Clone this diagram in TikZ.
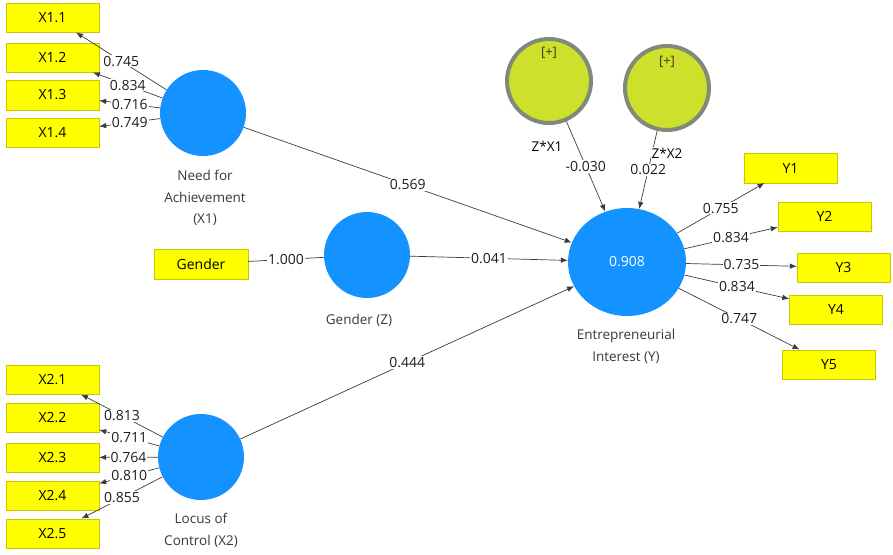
\documentclass[tikz,border=0pt]{standalone}
\usepackage{fontspec}
\setmainfont{Open Sans}
\usetikzlibrary{arrows.meta,shapes.geometric}
\definecolor{lvblue}{RGB}{20,146,255}
\definecolor{boxyellow}{RGB}{255,255,0}
\definecolor{boxedge}{RGB}{200,200,0}
\definecolor{intfill}{RGB}{205,224,43}
\definecolor{intedge}{RGB}{128,138,122}
\definecolor{linegray}{RGB}{60,60,60}
\definecolor{txtgray}{RGB}{30,30,30}
\definecolor{lvtext}{RGB}{60,55,50}
\definecolor{plustext}{RGB}{80,50,20}
\begin{document}
\begin{tikzpicture}[x=1pt,y=-1pt,
  indbox/.style={draw=boxedge, fill=boxyellow, minimum width=93pt, minimum height=29.5pt, inner sep=0pt, font=\fontsize{14}{16}\selectfont, text=black},
  lvcircle/.style={circle, fill=lvblue, minimum size=86pt, inner sep=0pt},
  intlv/.style={circle, fill=intfill, draw=intedge, line width=4pt, minimum size=84pt, inner sep=0pt},
  lvname/.style={align=center, font=\fontsize{13.5}{21.5}\selectfont, text=lvtext},
  coef/.style={fill=white, inner sep=1pt, font=\fontsize{14}{16}\selectfont, text=txtgray},
  ldarrow/.style={draw=linegray, line width=0.7pt, -{Latex[length=7pt,width=5.5pt]}},
  plainline/.style={draw=linegray, line width=0.7pt},
]
\useasboundingbox (0,0) rectangle (893,554);

% indicator boxes
\node[indbox] (X11) at (52.5,17.5) {X1.1};
\node[indbox] (X12) at (52.5,57.5) {X1.2};
\node[indbox] (X13) at (52.5,95) {X1.3};
\node[indbox] (X14) at (52.5,132.5) {X1.4};
\node[indbox] (X21) at (52.5,379.5) {X2.1};
\node[indbox] (X22) at (52.5,417.5) {X2.2};
\node[indbox] (X23) at (52.5,457.5) {X2.3};
\node[indbox] (X24) at (52.5,495.5) {X2.4};
\node[indbox] (X25) at (52.5,533.5) {X2.5};
\node[indbox, minimum width=94pt] (G) at (201,264) {Gender};
\node[indbox] (Y1) at (790.5,168) {Y1};
\node[indbox] (Y2) at (824.5,216.5) {Y2};
\node[indbox] (Y3) at (843.5,267.5) {Y3};
\node[indbox] (Y4) at (836,309.5) {Y4};
\node[indbox] (Y5) at (829,364.5) {Y5};

% latent variables
\node[lvcircle] (NA) at (203,113) {};
\node[lvcircle] (LC) at (201,457) {};
\node[lvcircle] (GZ) at (367,255) {};
\node[ellipse, fill=lvblue, minimum width=118pt, minimum height=108pt, inner sep=0pt,
      text=white, font=\fontsize{14}{16}\selectfont] (EI) at (627,262) {0.908};
\node[intlv] (ZX1) at (549,81) {};
\node[intlv] (ZX2) at (667,88) {};
\node[text=plustext, font=\fontsize{13}{15}\selectfont] (P1) at (549,53) {[+]};
\node[text=plustext, font=\fontsize{13}{15}\selectfont] (P2) at (667,62) {[+]};

% names
\node[lvname] (NAn) at (205,198) {Need for\\Achievement\\(X1)};
\node[lvname] (LCn) at (201,530.5) {Locus of\\Control (X2)};
\node[lvname] (GZn) at (359,320) {Gender (Z)};
\node[lvname] (EIn) at (626,346.5) {Entrepreneurial\\Interest (Y)};

% outer loadings X1
\draw[ldarrow] (NA) -- node[coef, midway] {0.745} (X11);
\draw[ldarrow] (NA) -- node[coef, midway] {0.834} (X12);
\draw[ldarrow] (NA) -- node[coef, midway] {0.716} (X13);
\draw[ldarrow] (NA) -- node[coef, midway] {0.749} (X14);
% outer loadings X2
\draw[ldarrow] (LC) -- node[coef, midway] {0.813} (X21);
\draw[ldarrow] (LC) -- node[coef, midway] {0.711} (X22);
\draw[ldarrow] (LC) -- node[coef, midway] {0.764} (X23);
\draw[ldarrow] (LC) -- node[coef, midway] {0.810} (X24);
\draw[ldarrow] (LC) -- node[coef, midway] {0.855} (X25);
% gender
\draw[plainline] (GZ) -- node[coef, midway] {1.000} (G);
% outer loadings Y
\draw[ldarrow] (EI) -- node[coef, midway] {0.755} (Y1);
\draw[ldarrow] (EI) -- node[coef, midway] {0.834} (Y2);
\draw[ldarrow] (EI) -- node[coef, midway] {0.735} (Y3);
\draw[ldarrow] (EI) -- node[coef, midway] {0.834} (Y4);
\draw[ldarrow] (EI) -- node[coef, midway] {0.747} (Y5);

% structural paths
\draw[ldarrow] (NA) -- node[coef, midway] {0.569} (EI);
\draw[ldarrow] (GZ) -- node[coef, midway] {0.041} (EI);
\draw[ldarrow] (LC) -- node[coef, midway] {0.444} (EI);
\draw[ldarrow] (ZX1) -- node[coef, midway] {-0.030} (EI);
\draw[ldarrow] (ZX2) -- node[coef, midway] {0.022} (EI);

% interaction names
\node[lvname, fill=white, inner sep=0.5pt, text=black] (ZX1n) at (547,146) {Z*X1};
\node[lvname, fill=white, inner sep=0.5pt, text=black] (ZX2n) at (667,153) {Z*X2};
\end{tikzpicture}
\end{document}
